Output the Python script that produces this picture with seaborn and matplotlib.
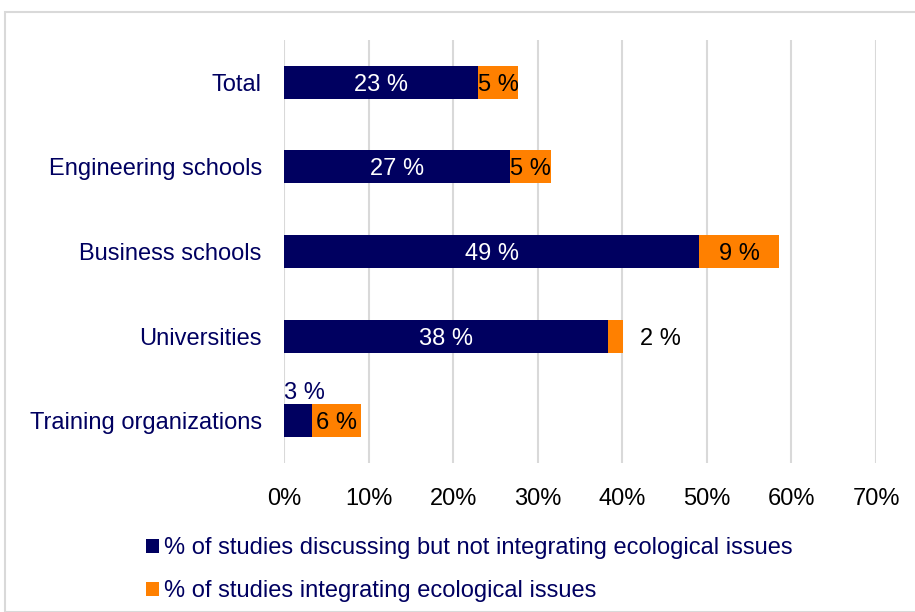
import matplotlib
matplotlib.use("Agg")
import matplotlib.pyplot as plt
import seaborn as sns
import pandas as pd
from matplotlib.patches import Rectangle, Patch

categories = ["Total", "Engineering schools", "Business schools", "Universities", "Training organizations"]
discussing = [22.9, 26.7, 49.1, 38.3, 3.3]
integrating = [4.8, 4.9, 9.4, 1.8, 5.8]
discussing_labels = ["23 %", "27 %", "49 %", "38 %", "3 %"]
integrating_labels = ["5 %", "5 %", "9 %", "2 %", "6 %"]
xticks = [0, 10, 20, 30, 40, 50, 60, 70]
xtick_labels = ["0%", "10%", "20%", "30%", "40%", "50%", "60%", "70%"]
legend_labels = ["% of studies discussing but not integrating ecological issues",
                 "% of studies integrating ecological issues"]

NAVY = "#000060"
ORANGE = "#FF8000"
GRID = "#D9D9D9"
FS = 17

sns.set_theme(style="white")
plt.rcParams["font.family"] = ["Liberation Sans", "DejaVu Sans"]

df = pd.DataFrame({"cat": categories, "disc": discussing, "integ": integrating})
df["total"] = df["disc"] + df["integ"]

fig = plt.figure(figsize=(9.15, 6.12), dpi=100)
ax = fig.add_axes([284/915, 1-463/612, (876-284)/915, (463-40)/612])

sns.barplot(data=df, y="cat", x="total", color=ORANGE, orient="h", width=0.39,
            ax=ax, saturation=1, linewidth=0)
sns.barplot(data=df, y="cat", x="disc", color=NAVY, orient="h", width=0.39,
            ax=ax, saturation=1, linewidth=0)

ax.set_xlim(0, 70)
ax.set_ylim(4.5, -0.5)
ax.set_xticks(xticks)
ax.set_xticklabels(xtick_labels, fontsize=FS, color="black")
ax.tick_params(axis="y", labelsize=FS, labelcolor=NAVY, length=0, pad=16)
ax.tick_params(axis="x", length=0, pad=18)
ax.set_xlabel("")
ax.set_ylabel("")
for s in ax.spines.values():
    s.set_visible(False)
ax.xaxis.grid(True, color=GRID, linewidth=1.5)
ax.set_axisbelow(True)

for i in range(len(categories)):
    d = discussing[i]
    g = integrating[i]
    if i == 4:
        ax.annotate(discussing_labels[i], (0, i), xytext=(0, 22), textcoords="offset points",
                    ha="left", va="center_baseline", fontsize=FS, color=NAVY)
    else:
        ax.text(d / 2, i, discussing_labels[i], ha="center", va="center_baseline",
                fontsize=FS, color="white")
    if i == 3:
        ax.annotate(integrating_labels[i], (d + g, i), xytext=(12, 0), textcoords="offset points",
                    ha="left", va="center_baseline", fontsize=FS, color="black")
    else:
        ax.text(d + g / 2, i, integrating_labels[i], ha="center", va="center_baseline",
                fontsize=FS, color="black")

handles = [Patch(facecolor=NAVY, edgecolor="none"), Patch(facecolor=ORANGE, edgecolor="none")]
leg = fig.legend(handles, legend_labels, loc="upper left", bbox_to_anchor=(125/915, 1-516/612),
                 frameon=False, fontsize=FS, handlelength=0.55, handleheight=0.55,
                 handletextpad=0.2, labelspacing=0.88, labelcolor=NAVY)

fig.patches.append(Rectangle((5/915, 0), 1.2, 1-12/612, transform=fig.transFigure,
                             fill=False, edgecolor=GRID, linewidth=1.5))

fig.savefig("out.png", dpi=100)
